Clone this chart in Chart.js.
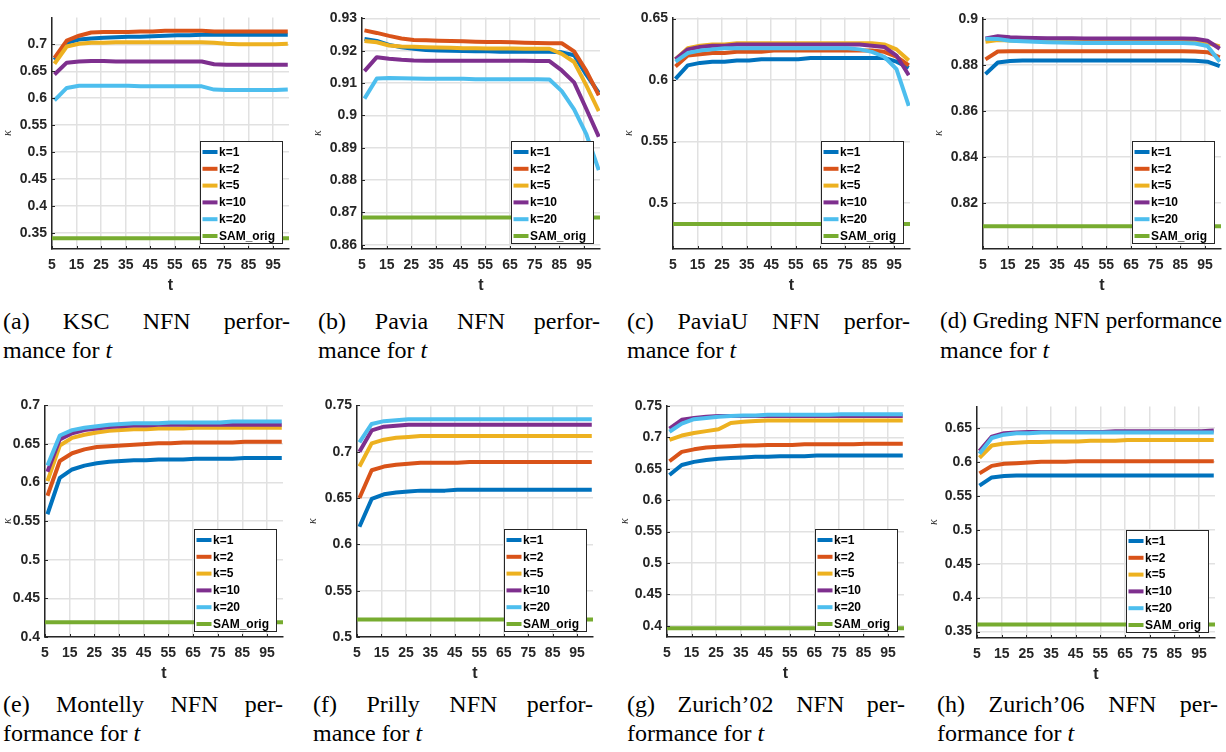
<!DOCTYPE html>
<html>
<head>
<meta charset="utf-8">
<script src="https://cdn.jsdelivr.net/npm/chart.js@4.4.1/dist/chart.umd.min.js"></script>
<style>
  html, body { margin: 0; padding: 0; background: #fff; }
  body { width: 1226px; height: 752px; position: relative; overflow: hidden; }
  canvas { position: absolute; }
  .cap { position: absolute; font-family: "Liberation Serif", serif; font-size: 24px; line-height: 24px; color: #000; white-space: nowrap; }
  .cap.j { text-align: justify; text-align-last: justify; }
  .cap i { font-style: italic; }
</style>
</head>
<body>
<script>
// t values of the samples, x tick labels
const tValues = [6, 11, 16, 21, 26, 31, 36, 41, 46, 51, 56, 61, 66, 71, 76, 81, 86, 91, 96, 101];
const xTicks = [5, 15, 25, 35, 45, 55, 65, 75, 85, 95];
const seriesNames = ['k=1', 'k=2', 'k=5', 'k=10', 'k=20', 'SAM_orig'];
const seriesColors = ['#0072BD', '#D95319', '#EDB120', '#7E2F8E', '#4DBEEE', '#77AC30'];

// (a) KSC
const kscK1 = [0.671, 0.703, 0.709, 0.711, 0.712, 0.713, 0.714, 0.714, 0.715, 0.716, 0.717, 0.717, 0.718, 0.718, 0.718, 0.718, 0.718, 0.718, 0.718, 0.718];
const kscK2 = [0.675, 0.707, 0.716, 0.722, 0.723, 0.723, 0.723, 0.724, 0.724, 0.725, 0.725, 0.725, 0.725, 0.724, 0.724, 0.724, 0.724, 0.724, 0.724, 0.724];
const kscK5 = [0.664, 0.696, 0.701, 0.703, 0.703, 0.704, 0.704, 0.704, 0.704, 0.704, 0.704, 0.704, 0.704, 0.703, 0.701, 0.700, 0.700, 0.700, 0.700, 0.701];
const kscK10 = [0.644, 0.666, 0.668, 0.669, 0.669, 0.668, 0.668, 0.668, 0.668, 0.668, 0.668, 0.668, 0.668, 0.663, 0.662, 0.662, 0.662, 0.662, 0.662, 0.662];
const kscK20 = [0.596, 0.619, 0.623, 0.623, 0.623, 0.623, 0.623, 0.622, 0.622, 0.622, 0.622, 0.622, 0.622, 0.616, 0.615, 0.615, 0.615, 0.615, 0.615, 0.616];
const kscTicks = [0.35, 0.4, 0.45, 0.5, 0.55, 0.6, 0.65, 0.7];

// (b) Pavia
const paviaK1 = [0.9236, 0.9230, 0.9218, 0.9211, 0.9206, 0.9202, 0.9201, 0.9200, 0.9199, 0.9198, 0.9198, 0.9197, 0.9197, 0.9197, 0.9197, 0.9197, 0.9195, 0.9186, 0.9125, 0.9070];
const paviaK2 = [0.9263, 0.9255, 0.9246, 0.9238, 0.9233, 0.9232, 0.9231, 0.9230, 0.9229, 0.9228, 0.9227, 0.9227, 0.9226, 0.9225, 0.9224, 0.9223, 0.9223, 0.9198, 0.9137, 0.9062];
const paviaK5 = [0.9230, 0.9226, 0.9216, 0.9213, 0.9212, 0.9211, 0.9210, 0.9209, 0.9208, 0.9208, 0.9207, 0.9207, 0.9207, 0.9206, 0.9206, 0.9206, 0.9190, 0.9165, 0.9092, 0.9013];
const paviaK10 = [0.9137, 0.9180, 0.9175, 0.9172, 0.9170, 0.9169, 0.9169, 0.9169, 0.9169, 0.9169, 0.9169, 0.9169, 0.9169, 0.9169, 0.9168, 0.9168, 0.9139, 0.9102, 0.9019, 0.8934];
const paviaK20 = [0.9052, 0.9114, 0.9116, 0.9115, 0.9114, 0.9113, 0.9113, 0.9113, 0.9113, 0.9112, 0.9112, 0.9112, 0.9112, 0.9112, 0.9112, 0.9111, 0.9075, 0.9019, 0.8941, 0.8831];
const paviaTicks = [0.86, 0.87, 0.88, 0.89, 0.9, 0.91, 0.92, 0.93];

// (c) PaviaU
const paviaUK1 = [0.601, 0.612, 0.614, 0.615, 0.615, 0.616, 0.616, 0.617, 0.617, 0.617, 0.617, 0.618, 0.618, 0.618, 0.618, 0.618, 0.618, 0.618, 0.615, 0.610];
const paviaUK2 = [0.611, 0.620, 0.621, 0.622, 0.622, 0.623, 0.623, 0.623, 0.624, 0.624, 0.624, 0.624, 0.624, 0.624, 0.624, 0.624, 0.624, 0.623, 0.619, 0.612];
const paviaUK5 = [0.617, 0.626, 0.628, 0.629, 0.629, 0.630, 0.630, 0.630, 0.630, 0.630, 0.630, 0.630, 0.630, 0.630, 0.630, 0.630, 0.630, 0.629, 0.625, 0.616];
const paviaUK10 = [0.617, 0.625, 0.627, 0.628, 0.628, 0.629, 0.629, 0.629, 0.629, 0.629, 0.629, 0.629, 0.629, 0.629, 0.629, 0.629, 0.628, 0.627, 0.620, 0.604];
const paviaUK20 = [0.615, 0.622, 0.624, 0.625, 0.626, 0.626, 0.626, 0.626, 0.626, 0.626, 0.626, 0.626, 0.626, 0.626, 0.626, 0.625, 0.623, 0.619, 0.609, 0.579];
const paviaUTicks = [0.5, 0.55, 0.6, 0.65];

// (d) Greding
const gredingK1 = [0.8760, 0.8810, 0.8817, 0.8819, 0.8819, 0.8819, 0.8819, 0.8819, 0.8819, 0.8819, 0.8819, 0.8819, 0.8819, 0.8819, 0.8819, 0.8819, 0.8819, 0.8818, 0.8814, 0.8795];
const gredingK2 = [0.8824, 0.8858, 0.8859, 0.8859, 0.8859, 0.8859, 0.8859, 0.8859, 0.8859, 0.8859, 0.8859, 0.8859, 0.8859, 0.8859, 0.8859, 0.8859, 0.8859, 0.8858, 0.8855, 0.8833];
const gredingK5 = [0.8900, 0.8908, 0.8906, 0.8905, 0.8905, 0.8904, 0.8904, 0.8904, 0.8904, 0.8904, 0.8904, 0.8904, 0.8904, 0.8904, 0.8904, 0.8904, 0.8904, 0.8902, 0.8895, 0.8880];
const gredingK10 = [0.8915, 0.8924, 0.8920, 0.8918, 0.8917, 0.8916, 0.8915, 0.8915, 0.8914, 0.8914, 0.8914, 0.8914, 0.8914, 0.8914, 0.8914, 0.8914, 0.8914, 0.8913, 0.8905, 0.8870];
const gredingK20 = [0.8913, 0.8912, 0.8905, 0.8902, 0.8900, 0.8898, 0.8897, 0.8896, 0.8895, 0.8895, 0.8895, 0.8895, 0.8895, 0.8895, 0.8895, 0.8895, 0.8895, 0.8893, 0.8882, 0.8814];
const gredingTicks = [0.82, 0.84, 0.86, 0.88, 0.9];

// (e) Montelly
const montellyK1 = [0.559, 0.606, 0.617, 0.622, 0.625, 0.627, 0.628, 0.629, 0.629, 0.630, 0.630, 0.630, 0.631, 0.631, 0.631, 0.631, 0.632, 0.632, 0.632, 0.632];
const montellyK2 = [0.583, 0.628, 0.638, 0.643, 0.646, 0.647, 0.648, 0.649, 0.650, 0.651, 0.651, 0.652, 0.652, 0.652, 0.652, 0.652, 0.653, 0.653, 0.653, 0.653];
const montellyK5 = [0.602, 0.648, 0.658, 0.662, 0.665, 0.667, 0.668, 0.669, 0.669, 0.670, 0.670, 0.670, 0.671, 0.671, 0.671, 0.671, 0.671, 0.671, 0.671, 0.671];
const montellyK10 = [0.614, 0.656, 0.664, 0.668, 0.670, 0.672, 0.673, 0.674, 0.674, 0.675, 0.675, 0.675, 0.675, 0.675, 0.675, 0.675, 0.675, 0.675, 0.675, 0.675];
const montellyK20 = [0.622, 0.661, 0.668, 0.671, 0.673, 0.675, 0.676, 0.677, 0.677, 0.677, 0.678, 0.678, 0.678, 0.678, 0.678, 0.679, 0.679, 0.679, 0.679, 0.679];
const montellyTicks = [0.4, 0.45, 0.5, 0.55, 0.6, 0.65, 0.7];

// (f) Prilly
const prillyK1 = [0.619, 0.649, 0.654, 0.656, 0.657, 0.658, 0.658, 0.658, 0.659, 0.659, 0.659, 0.659, 0.659, 0.659, 0.659, 0.659, 0.659, 0.659, 0.659, 0.659];
const prillyK2 = [0.650, 0.680, 0.684, 0.686, 0.687, 0.688, 0.688, 0.688, 0.688, 0.689, 0.689, 0.689, 0.689, 0.689, 0.689, 0.689, 0.689, 0.689, 0.689, 0.689];
const prillyK5 = [0.684, 0.709, 0.713, 0.715, 0.716, 0.717, 0.717, 0.717, 0.717, 0.717, 0.717, 0.717, 0.717, 0.717, 0.717, 0.717, 0.717, 0.717, 0.717, 0.717];
const prillyK10 = [0.700, 0.723, 0.727, 0.728, 0.729, 0.729, 0.729, 0.729, 0.729, 0.729, 0.729, 0.729, 0.729, 0.729, 0.729, 0.729, 0.729, 0.729, 0.729, 0.729];
const prillyK20 = [0.710, 0.730, 0.733, 0.734, 0.735, 0.735, 0.735, 0.735, 0.735, 0.735, 0.735, 0.735, 0.735, 0.735, 0.735, 0.735, 0.735, 0.735, 0.735, 0.735];
const prillyTicks = [0.5, 0.55, 0.6, 0.65, 0.7, 0.75];

// (g) Zurich'02
const zurich02K1 = [0.640, 0.656, 0.661, 0.664, 0.666, 0.667, 0.668, 0.669, 0.669, 0.670, 0.670, 0.670, 0.671, 0.671, 0.671, 0.671, 0.671, 0.671, 0.671, 0.671];
const zurich02K2 = [0.662, 0.677, 0.681, 0.684, 0.685, 0.686, 0.687, 0.687, 0.688, 0.688, 0.688, 0.689, 0.689, 0.689, 0.689, 0.689, 0.690, 0.690, 0.690, 0.690];
const zurich02K5 = [0.696, 0.703, 0.707, 0.710, 0.713, 0.723, 0.725, 0.726, 0.727, 0.727, 0.727, 0.727, 0.727, 0.727, 0.727, 0.727, 0.727, 0.727, 0.727, 0.727];
const zurich02K10 = [0.714, 0.728, 0.731, 0.733, 0.734, 0.734, 0.734, 0.734, 0.734, 0.734, 0.734, 0.734, 0.734, 0.734, 0.734, 0.734, 0.734, 0.734, 0.734, 0.734];
const zurich02K20 = [0.709, 0.722, 0.729, 0.731, 0.733, 0.734, 0.735, 0.735, 0.736, 0.736, 0.736, 0.736, 0.736, 0.736, 0.737, 0.737, 0.737, 0.737, 0.737, 0.737];
const zurich02Ticks = [0.4, 0.45, 0.5, 0.55, 0.6, 0.65, 0.7, 0.75];

// (h) Zurich'06
const zurich06K1 = [0.565, 0.577, 0.579, 0.580, 0.580, 0.580, 0.580, 0.580, 0.580, 0.580, 0.580, 0.580, 0.580, 0.580, 0.580, 0.580, 0.580, 0.580, 0.580, 0.580];
const zurich06K2 = [0.583, 0.594, 0.597, 0.598, 0.599, 0.600, 0.600, 0.600, 0.601, 0.601, 0.601, 0.601, 0.601, 0.601, 0.601, 0.601, 0.601, 0.601, 0.601, 0.601];
const zurich06K5 = [0.606, 0.624, 0.627, 0.628, 0.629, 0.629, 0.630, 0.630, 0.630, 0.631, 0.631, 0.631, 0.632, 0.632, 0.632, 0.632, 0.632, 0.632, 0.632, 0.632];
const zurich06K10 = [0.616, 0.637, 0.642, 0.643, 0.644, 0.644, 0.644, 0.644, 0.644, 0.644, 0.644, 0.645, 0.645, 0.645, 0.645, 0.645, 0.645, 0.645, 0.645, 0.646];
const zurich06K20 = [0.612, 0.635, 0.640, 0.642, 0.642, 0.643, 0.643, 0.643, 0.643, 0.643, 0.643, 0.643, 0.643, 0.643, 0.643, 0.643, 0.643, 0.643, 0.643, 0.643];
const zurich06Ticks = [0.35, 0.4, 0.45, 0.5, 0.55, 0.6, 0.65];

// SAM_orig baseline per panel (a..h)
const samOrig = [0.340, 0.8684, 0.483, 0.810, 0.419, 0.519, 0.396, 0.3605];

const X_MIN = 5, X_MAX = 101.5;
const AXIS = '#262626';
const GRID = '#e1e1e1';

// plot areas in page pixels: [left, top, right, bottom], y axis band width, y range
const panels = [
  { box: [52, 12, 289, 249], yw: 52, y: [0.32, 0.75], ticks: kscTicks, series: [kscK1, kscK2, kscK5, kscK10, kscK20],
    cap: { x: 3, y: 309, w: 287, l1: '(a) KSC NFN perfor-', l2: 'mance for' } },
  { box: [362, 12, 600, 249], yw: 52, y: [0.8587, 0.9303], ticks: paviaTicks, series: [paviaK1, paviaK2, paviaK5, paviaK10, paviaK20],
    cap: { x: 318, y: 309, w: 282, l1: '(b) Pavia NFN perfor-', l2: 'mance for' } },
  { box: [673, 12, 910, 249], yw: 52, y: [0.4627, 0.651], ticks: paviaUTicks, series: [paviaUK1, paviaUK2, paviaUK5, paviaUK10, paviaUK20],
    cap: { x: 627, y: 309, w: 283, l1: '(c) PaviaU NFN perfor-', l2: 'mance for' } },
  { box: [983, 12, 1221, 249], yw: 52, y: [0.8001, 0.9006], ticks: gredingTicks, series: [gredingK1, gredingK2, gredingK5, gredingK10, gredingK20],
    cap: { x: 940, y: 309, w: 282, l1: '(d) Greding NFN performance', l2: 'mance for', tight: true } },
  { box: [45, 400, 283, 637], yw: 45, y: [0.4, 0.7], ticks: montellyTicks, series: [montellyK1, montellyK2, montellyK5, montellyK10, montellyK20],
    cap: { x: 3, y: 692, w: 280, l1: '(e) Montelly NFN per-', l2: 'formance for' } },
  { box: [357, 400, 593, 637], yw: 52, y: [0.5, 0.75], ticks: prillyTicks, series: [prillyK1, prillyK2, prillyK5, prillyK10, prillyK20],
    cap: { x: 313, y: 692, w: 280, l1: '(f) Prilly NFN perfor-', l2: 'mance for' } },
  { box: [667, 400, 904, 637], yw: 50, y: [0.382, 0.751], ticks: zurich02Ticks, series: [zurich02K1, zurich02K2, zurich02K5, zurich02K10, zurich02K20],
    cap: { x: 627, y: 692, w: 278, l1: '(g) Zurich\u201902 NFN per-', l2: 'formance for' } },
  { box: [977, 401, 1215, 638], yw: 51, y: [0.3405, 0.6816], ticks: zurich06Ticks, series: [zurich06K1, zurich06K2, zurich06K5, zurich06K10, zurich06K20],
    cap: { x: 937, y: 692, w: 281, l1: '(h) Zurich\u201906 NFN per-', l2: 'formance for' } }
];

const PAD_TOP = 8, PAD_RIGHT = 8, X_BAND = 48, CAP_LINE = 29;

// legend drawn inside the plot, lower right, with a box
const boxLegend = {
  id: 'boxLegend',
  afterDatasetsDraw(chart) {
    const { ctx, chartArea } = chart;
    const w = 82, h = 102;
    const x0 = Math.round(chartArea.right - 7 - w) + 0.5;
    const y0 = Math.round(chartArea.bottom - 6 - h) + 0.5;
    ctx.save();
    ctx.fillStyle = '#fff';
    ctx.fillRect(x0, y0, w, h);
    ctx.strokeStyle = AXIS;
    ctx.lineWidth = 1;
    ctx.strokeRect(x0, y0, w, h);
    ctx.font = 'bold 12px "Liberation Sans", Arial, sans-serif';
    ctx.textBaseline = 'middle';
    chart.data.datasets.forEach((ds, i) => {
      const y = y0 + 10.5 + i * 16.8;
      ctx.strokeStyle = ds.borderColor;
      ctx.lineWidth = 4;
      ctx.beginPath();
      ctx.moveTo(x0 + 2, y);
      ctx.lineTo(x0 + 17, y);
      ctx.stroke();
      ctx.fillStyle = '#000';
      ctx.fillText(ds.label, x0 + 18.5, y + 0.5);
    });
    ctx.restore();
  }
};

// short inward tick marks on the left and bottom axes
const innerTicks = {
  id: 'innerTicks',
  afterDraw(chart) {
    const { ctx, chartArea, scales } = chart;
    ctx.save();
    ctx.strokeStyle = AXIS;
    ctx.lineWidth = 1;
    ctx.beginPath();
    scales.x.ticks.forEach(tk => {
      const px = Math.round(scales.x.getPixelForValue(tk.value)) + 0.5;
      ctx.moveTo(px, chartArea.bottom);
      ctx.lineTo(px, chartArea.bottom - 3);
    });
    scales.y.ticks.forEach(tk => {
      const py = Math.round(scales.y.getPixelForValue(tk.value)) + 0.5;
      ctx.moveTo(chartArea.left, py);
      ctx.lineTo(chartArea.left + 3, py);
    });
    ctx.stroke();
    ctx.restore();
  }
};

const tickFont = { family: '"Liberation Sans", Arial, sans-serif', size: 14, weight: 'bold' };

panels.forEach((p, idx) => {
  const [l, t, r, b] = p.box;
  const cv = document.createElement('canvas');
  const cw = (r - l) + p.yw + PAD_RIGHT;
  const ch = (b - t) + PAD_TOP + X_BAND;
  cv.width = cw; cv.height = ch;
  cv.style.left = (l - p.yw) + 'px';
  cv.style.top = (t - PAD_TOP) + 'px';
  cv.style.width = cw + 'px'; cv.style.height = ch + 'px';
  document.body.appendChild(cv);

  const datasets = p.series.map((vals, i) => ({
    label: seriesNames[i],
    data: tValues.map((tv, j) => ({ x: tv, y: vals[j] })),
    borderColor: seriesColors[i],
    order: 6 - i
  }));
  datasets.push({
    label: seriesNames[5],
    data: [{ x: X_MIN, y: samOrig[idx] }, { x: X_MAX, y: samOrig[idx] }],
    borderColor: seriesColors[5],
    order: 0
  });

  new Chart(cv, {
    type: 'line',
    data: { datasets },
    plugins: [innerTicks, boxLegend],
    options: {
      responsive: false,
      animation: false,
      devicePixelRatio: 1,
      layout: { padding: { top: PAD_TOP, right: PAD_RIGHT, left: 0, bottom: 0 } },
      plugins: { legend: { display: false }, tooltip: { enabled: false } },
      elements: {
        point: { radius: 0 },
        line: { borderWidth: 4, tension: 0, fill: false, borderCapStyle: 'butt', borderJoinStyle: 'round' }
      },
      scales: {
        x: {
          type: 'linear', min: X_MIN, max: X_MAX,
          afterBuildTicks: s => { s.ticks = xTicks.map(v => ({ value: v })); },
          afterFit: s => { s.height = X_BAND; },
          grid: { color: GRID, lineWidth: 1.5, drawTicks: false },
          border: { color: AXIS, width: 1.5 },
          ticks: { padding: 8, maxRotation: 0, autoSkip: false, font: tickFont, color: AXIS },
          title: { display: true, text: 't', color: AXIS, font: { family: tickFont.family, size: 16, weight: 'bold' }, padding: { top: 0, bottom: 2 } }
        },
        y: {
          type: 'linear', min: p.y[0], max: p.y[1],
          afterBuildTicks: s => { s.ticks = p.ticks.map(v => ({ value: v })); },
          afterFit: s => { s.width = p.yw; },
          grid: { color: GRID, lineWidth: 1.5, drawTicks: false },
          border: { color: AXIS, width: 1.5 },
          ticks: { padding: 5, autoSkip: false, font: tickFont, color: AXIS, callback: v => String(+v.toFixed(4)) },
          title: { display: true, text: '\u03ba', color: AXIS, font: { family: '"Liberation Serif", serif', size: 12, style: 'italic' }, padding: { top: 1, bottom: 0 } }
        }
      }
    }
  });

  const c1 = document.createElement('div');
  c1.className = 'cap j';
  c1.style.left = p.cap.x + 'px';
  c1.style.top = p.cap.y + 'px';
  c1.style.width = p.cap.w + 'px';
  if (p.cap.tight) c1.style.fontSize = '23px';
  c1.textContent = p.cap.l1;
  document.body.appendChild(c1);

  const c2 = document.createElement('div');
  c2.className = 'cap';
  c2.style.left = p.cap.x + 'px';
  c2.style.top = (p.cap.y + CAP_LINE) + 'px';
  c2.innerHTML = p.cap.l2 + ' <i>t</i>';
  document.body.appendChild(c2);
});
</script>
</body>
</html>
